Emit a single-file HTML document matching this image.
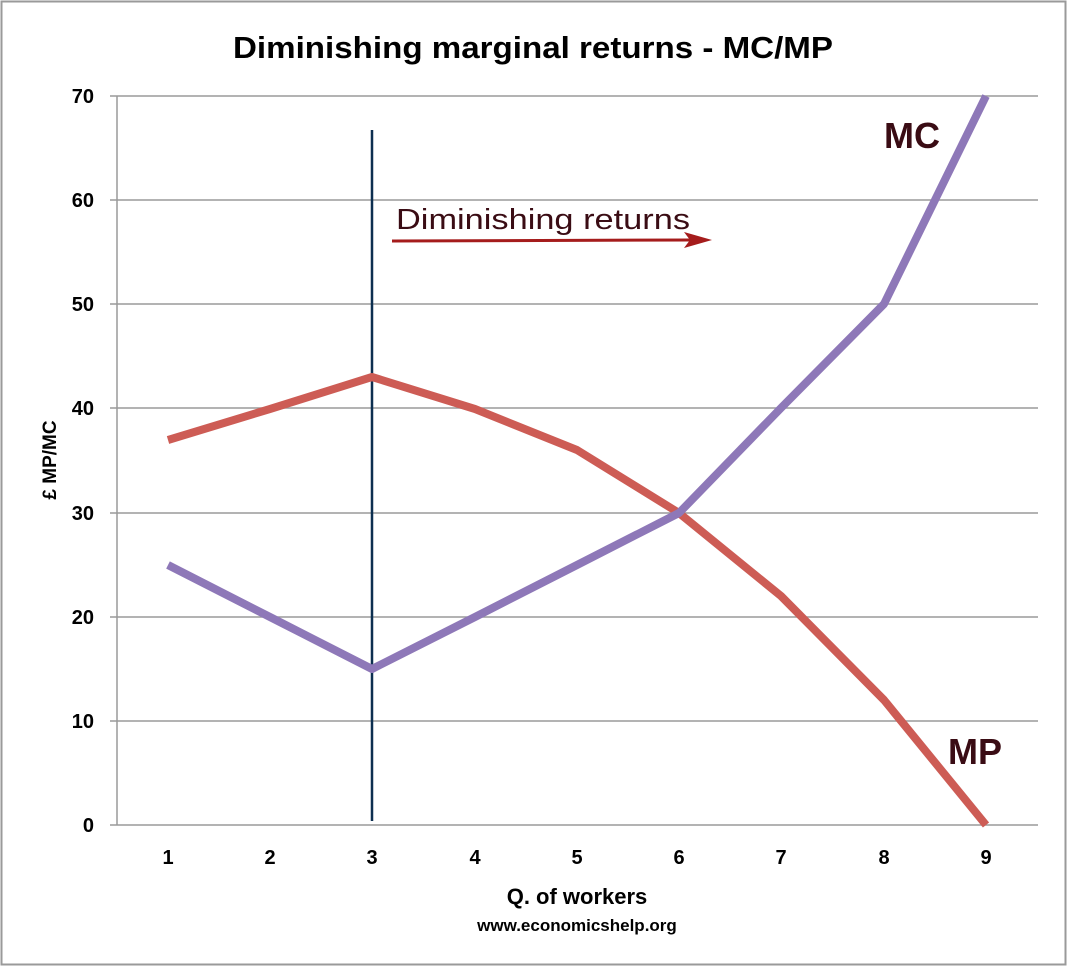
<!DOCTYPE html>
<html><head><meta charset="utf-8"><style>
html,body{margin:0;padding:0;background:#fff;}
svg{display:block;}
text{font-family:"Liberation Sans",sans-serif;}
</style></head><body>
<svg width="1068" height="967" viewBox="0 0 1068 967" xmlns="http://www.w3.org/2000/svg">
<rect x="1.5" y="1.5" width="1064" height="963" fill="#fff" stroke="#9a9a9a" stroke-width="2"/>
<text x="233" y="58" textLength="600" lengthAdjust="spacingAndGlyphs" font-size="31" font-weight="bold" fill="#000">Diminishing marginal returns - MC/MP</text>
<g stroke="#9a9a9a" stroke-width="1.5">
<line x1="110" y1="96" x2="1038" y2="96"/>
<line x1="110" y1="200" x2="1038" y2="200"/>
<line x1="110" y1="304" x2="1038" y2="304"/>
<line x1="110" y1="408" x2="1038" y2="408"/>
<line x1="110" y1="513" x2="1038" y2="513"/>
<line x1="110" y1="617" x2="1038" y2="617"/>
<line x1="110" y1="721" x2="1038" y2="721"/>
<line x1="110" y1="825" x2="1038" y2="825"/>
<line x1="117" y1="96" x2="117" y2="825"/>
</g>
<g font-size="20" font-weight="bold" fill="#000" text-anchor="end">
<text x="94" y="103">70</text><text x="94" y="207">60</text><text x="94" y="311">50</text>
<text x="94" y="415">40</text><text x="94" y="520">30</text><text x="94" y="624">20</text>
<text x="94" y="728">10</text><text x="94" y="832">0</text>
</g>
<g font-size="20" font-weight="bold" fill="#000" text-anchor="middle">
<text x="168" y="864">1</text><text x="270" y="864">2</text><text x="372" y="864">3</text>
<text x="475" y="864">4</text><text x="577" y="864">5</text><text x="679" y="864">6</text>
<text x="781" y="864">7</text><text x="884" y="864">8</text><text x="986" y="864">9</text>
<text x="577" y="904" font-size="22">Q. of workers</text>
<text x="577" y="931" font-size="17">www.economicshelp.org</text>
</g>
<text transform="translate(56,460) rotate(-90)" text-anchor="middle" font-size="19" font-weight="bold">£ MP/MC</text>
<line x1="372" y1="130" x2="372" y2="821" stroke="#0d2f50" stroke-width="2.5"/>
<polyline fill="none" stroke="#cd5c55" stroke-width="8" stroke-linejoin="round" points="168,440 270,409 372,377 475,409 577,450 679,513 781,596 884,700 986,825"/>
<polyline fill="none" stroke="#8e78b8" stroke-width="8" stroke-linejoin="round" points="168,565 270,617 372,669 475,617 577,565 679,513 781,408 884,304 986,96"/>
<text x="396" y="229" textLength="294" lengthAdjust="spacingAndGlyphs" font-size="29" fill="#3a0c14">Diminishing returns</text>
<line x1="392" y1="241" x2="690" y2="240" stroke="#a51c1c" stroke-width="3"/>
<polygon points="712,240 684,232 690,240 684,248" fill="#a51c1c"/>
<text x="884" y="148" font-size="36" font-weight="bold" fill="#3a0c14">MC</text>
<text x="948" y="764" font-size="36" font-weight="bold" fill="#3a0c14">MP</text>
</svg>
</body></html>
